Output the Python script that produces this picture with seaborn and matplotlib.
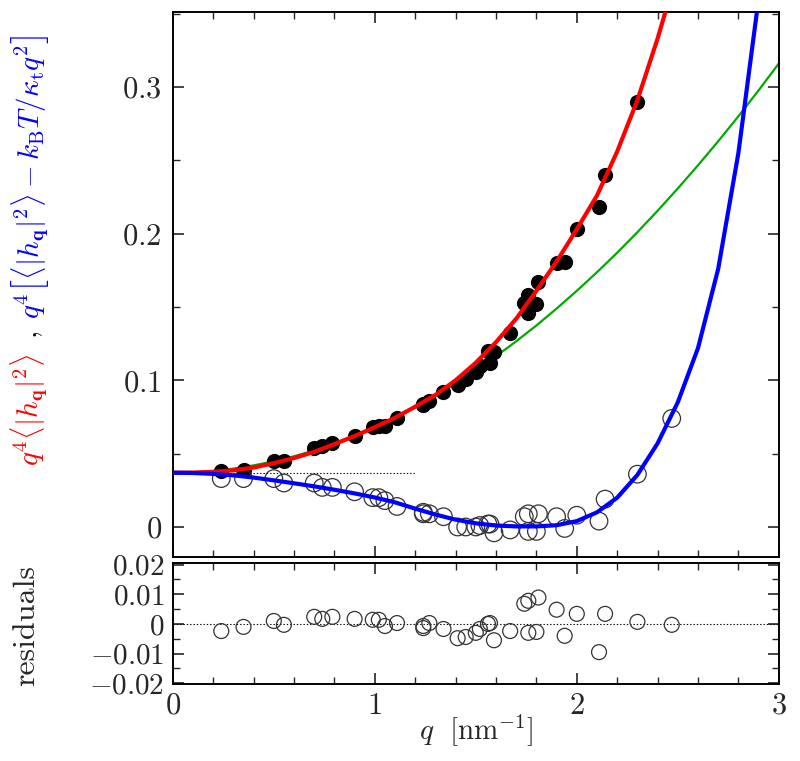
import numpy as np
import pandas as pd
import matplotlib
matplotlib.use("Agg")
import matplotlib.pyplot as plt
from matplotlib.ticker import MultipleLocator, FixedLocator, FuncFormatter
import seaborn as sns

# ---------------- data ----------------
q_pts = [0.24, 0.35, 0.50, 0.55, 0.70, 0.74, 0.79, 0.90, 0.99, 1.02, 1.05, 1.11,
         1.24, 1.24, 1.27, 1.34, 1.41, 1.45, 1.50, 1.52, 1.56, 1.57, 1.59, 1.67,
         1.74, 1.76, 1.76, 1.80, 1.81, 1.90, 1.94, 2.00, 2.11, 2.14, 2.30, 2.47]
filled_y = [0.038, 0.039, 0.045, 0.045, 0.054, 0.055, 0.057, 0.062, 0.068, 0.069, 0.069, 0.074,
            0.084, 0.083, 0.086, 0.092, 0.097, 0.101, 0.106, 0.110, 0.120, 0.112, 0.119, 0.132,
            0.153, 0.158, 0.146, 0.152, 0.167, 0.180, 0.181, 0.203, 0.218, 0.240, 0.290]
open_y = [0.033, 0.033, 0.033, 0.030, 0.030, 0.027, 0.027, 0.024, 0.020, 0.020, 0.018, 0.014,
          0.009, 0.010, 0.009, 0.007, 0.000, 0.000, 0.000, 0.001, 0.002, 0.002, -0.004, -0.002,
          0.007, 0.009, -0.003, -0.003, 0.009, 0.007, -0.001, 0.008, 0.004, 0.019, 0.036, 0.074]
resid = [-0.0024, -0.0010, 0.0010, -0.0003, 0.0024, 0.0017, 0.0024, 0.0017, 0.0014, 0.0014, -0.0007, 0.0003,
         -0.0014, -0.0007, 0.0003, -0.0017, -0.0048, -0.0044, -0.0030, -0.0017, 0.0000, 0.0003, -0.0055, -0.0024,
         0.0068, 0.0078, -0.0030, -0.0027, 0.0089, 0.0048, -0.0040, 0.0034, -0.0095, 0.0034, 0.0007, -0.0003]

q_curve = [0.0, 0.1, 0.2, 0.3, 0.4, 0.5, 0.6, 0.7, 0.8, 0.9, 1.0, 1.1, 1.2, 1.3, 1.4, 1.5,
           1.6, 1.7, 1.8, 1.9, 2.0, 2.1, 2.2, 2.3, 2.4, 2.5, 2.6, 2.7, 2.8, 2.9, 3.0]
red_curve = [0.0370, 0.0371, 0.0376, 0.0386, 0.0405, 0.0435, 0.0470, 0.0512, 0.0565, 0.0620, 0.0680, 0.0745,
             0.0820, 0.0900, 0.1000, 0.1120, 0.1260, 0.1420, 0.1610, 0.1810, 0.2030, 0.2260, 0.2560, 0.2910,
             0.3330, 0.3800, 0.4300, 0.4900, 0.5600, 0.6400, 0.7300]
blue_curve = [0.0370, 0.0368, 0.0362, 0.0352, 0.0337, 0.0318, 0.0298, 0.0277, 0.0254, 0.0229, 0.0201, 0.0168,
              0.0125, 0.0085, 0.0050, 0.0025, 0.0010, 0.0004, 0.0004, 0.0012, 0.0040, 0.0100, 0.0200, 0.0355,
              0.0570, 0.0850, 0.1220, 0.1760, 0.2550, 0.3600, 0.5000]
green_curve = [0.0370, 0.0373, 0.0382, 0.0398, 0.0420, 0.0448, 0.0482, 0.0522, 0.0568, 0.0621, 0.0680, 0.0745,
               0.0816, 0.0894, 0.0978, 0.1068, 0.1164, 0.1266, 0.1374, 0.1489, 0.1610, 0.1737, 0.1870, 0.2010,
               0.2156, 0.2308, 0.2466, 0.2630, 0.2800, 0.2977, 0.3160]

plateau_q = [0.0, 1.2]
plateau_y = [0.037, 0.037]

# ---------------- style ----------------
sns.set_theme(style="ticks")
plt.rcParams.update({
    "font.family": "serif",
    "font.serif": ["cmr10", "DejaVu Serif"],
    "mathtext.fontset": "cm",
    "axes.formatter.use_mathtext": True,
    "axes.linewidth": 1.4,
    "axes.edgecolor": "black",
    "xtick.direction": "in",
    "ytick.direction": "in",
    "xtick.top": True,
    "ytick.right": True,
})

fig = plt.figure(figsize=(8.0, 7.61), dpi=100)
ax = fig.add_axes([0.216, 0.268, 0.7575, 0.716])
axr = fig.add_axes([0.216, 0.101, 0.7575, 0.159])

df_curve = pd.DataFrame({"q": q_curve, "red": red_curve, "blue": blue_curve, "green": green_curve})
df_pts = pd.DataFrame({"q": q_pts, "open": open_y, "resid": resid})
df_fill = pd.DataFrame({"q": q_pts[:len(filled_y)], "filled": filled_y})

# dotted plateau line
ax.plot(plateau_q, plateau_y, ls=(0, (1.2, 1.8)), color="black", lw=0.8, zorder=1)

sns.lineplot(data=df_curve, x="q", y="green", color="#00aa00", lw=1.6, ax=ax, zorder=2)
sns.scatterplot(data=df_fill, x="q", y="filled", color="black", s=120, edgecolor="black",
                linewidth=0, ax=ax, zorder=3)
sns.scatterplot(data=df_pts, x="q", y="open", facecolor="none", edgecolor="#333333", s=160,
                linewidth=0.9, ax=ax, zorder=3)
sns.lineplot(data=df_curve, x="q", y="red", color="#ff0000", lw=3.0, ax=ax, zorder=4)
sns.lineplot(data=df_curve, x="q", y="blue", color="#0000ff", lw=3.0, ax=ax, zorder=4)

ax.set_xlim(0, 3)
ax.set_ylim(-0.0205, 0.351)
ax.xaxis.set_major_locator(MultipleLocator(1))
ax.xaxis.set_minor_locator(MultipleLocator(0.2))
ax.yaxis.set_major_locator(FixedLocator([0, 0.1, 0.2, 0.3]))
ax.yaxis.set_minor_locator(MultipleLocator(0.05))
ax.set_xticklabels([])
ax.yaxis.set_major_formatter(FuncFormatter(lambda v, p: "$0$" if abs(v) < 1e-9 else f"${v:.1f}$"))
ax.set_xlabel("")
ax.set_ylabel("")

# residuals panel
axr.axhline(0, ls=(0, (1.2, 1.8)), color="black", lw=0.8, zorder=1)
sns.scatterplot(data=df_pts, x="q", y="resid", facecolor="none", edgecolor="#333333", s=115,
                linewidth=0.9, ax=axr, zorder=3)
axr.set_xlim(0, 3)
axr.set_ylim(-0.0203, 0.0205)
axr.xaxis.set_major_locator(MultipleLocator(1))
axr.xaxis.set_minor_locator(MultipleLocator(0.2))
axr.yaxis.set_major_locator(FixedLocator([-0.02, -0.01, 0, 0.01, 0.02]))
axr.yaxis.set_minor_locator(MultipleLocator(0.005))
axr.yaxis.set_major_formatter(FuncFormatter(lambda v, p: "$0$" if abs(v) < 1e-9 else f"${v:.2f}$"))
axr.xaxis.set_major_formatter(FuncFormatter(lambda v, p: f"${v:.0f}$"))
axr.set_ylabel("")
axr.set_xlabel(r"$q\ \ [\mathrm{nm}^{-1}]$", fontsize=21, labelpad=-6)

for a in (ax, axr):
    a.tick_params(which="major", length=8, width=1.2, labelsize=22, pad=8)
    a.tick_params(which="minor", length=5, width=1.0)
    for s in a.spines.values():
        s.set_linewidth(1.4)
axr.tick_params(axis="y", which="major", labelsize=21, pad=6)
axr.tick_params(axis="x", which="major", labelsize=22, pad=6)

# y labels (multicolour, rotated)
fig.text(0.036, 0.462, r"$q^4\langle|h_\mathbf{q}|^2\rangle$", color="#ff0000", rotation=90,
         ha="center", va="center", fontsize=21)
fig.text(0.040, 0.560, r"$,$", color="black", rotation=90, ha="center", va="center", fontsize=21)
fig.text(0.038, 0.768, r"$q^4\left[\langle|h_\mathbf{q}|^2\rangle - k_\mathrm{B}T/\kappa_\mathrm{t}q^2\right]$",
         color="#0000ff", rotation=90, ha="center", va="center", fontsize=21)
fig.text(0.033, 0.178, "residuals", rotation=90, ha="center", va="center", fontsize=23)

fig.savefig("out.png", dpi=100)
